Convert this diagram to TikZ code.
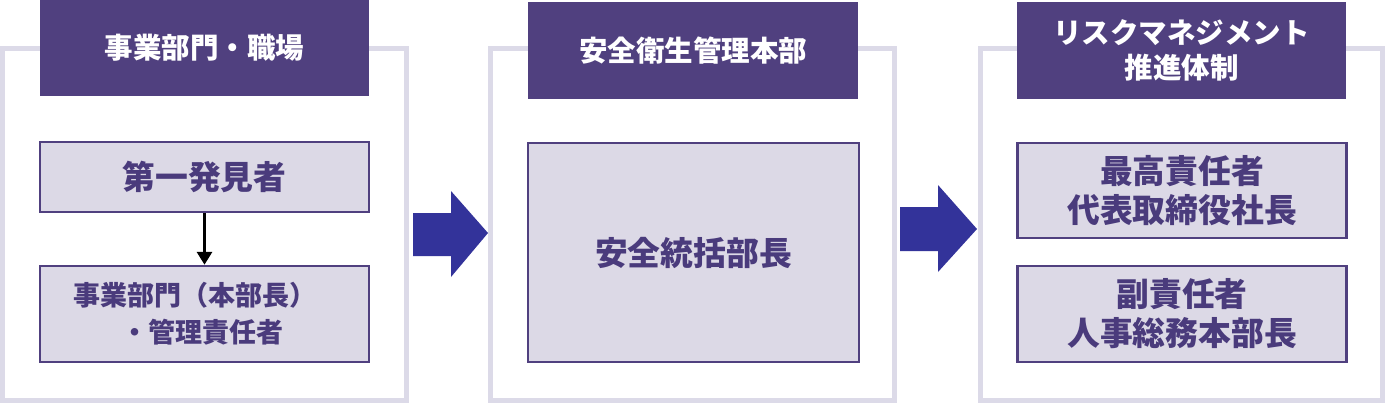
\documentclass[tikz,border=0pt]{standalone}
\usepackage{fontspec}
\setmainfont{Noto Sans CJK JP}
\usetikzlibrary{arrows.meta}
\definecolor{hdr}{HTML}{50407F}
\definecolor{frm}{HTML}{DCDAE8}
\definecolor{bxfill}{HTML}{DCD9E6}
\definecolor{bxtext}{HTML}{4A3B7C}
\definecolor{blk}{HTML}{33339A}
\tikzset{
  frame/.style={draw=frm,line width=5pt},
  header/.style={fill=hdr,text=white,inner sep=0pt,align=center,font=\fontsize{28.5}{35}\selectfont\bfseries},
  rolebox/.style={draw=hdr,fill=bxfill,line width=2.5pt,text=bxtext,inner sep=0pt,align=center,font=\fontsize{32.8}{39}\selectfont\bfseries},
  blockarrow/.style={fill=blk},
}
\begin{document}
\begin{tikzpicture}[x=1pt,y=-1pt]
\useasboundingbox (0,0) rectangle (1386,404);
% frames
\draw[frame] (2.5,48.5) rectangle (406.5,400.5);
\draw[frame] (490.5,49) rectangle (894.5,400.5);
\draw[frame] (980.5,49) rectangle (1382.5,400.5);
% headers
\node[header,minimum width=329pt,minimum height=96pt] (h1) at (204.5,48) {事業部門・職場};
\node[header,minimum width=330pt,minimum height=97pt] (h2) at (693,50.5) {安全衛生管理本部};
\node[header,minimum width=329pt,minimum height=97pt] (h3) at (1181.5,50.5) {リスクマネジメント\\推進体制};
% boxes
\node[rolebox,minimum width=329pt,minimum height=70pt] (b1) at (204.5,177) {第一発見者};
\node[rolebox,minimum width=329pt,minimum height=96pt,text width=329pt,align=left,font=\fontsize{27}{37}\selectfont\bfseries] (b2) at (204.5,314) {\hspace*{33pt}事業部門（本部長）\\\hspace*{81pt}・管理責任者};
\node[rolebox,minimum width=331pt,minimum height=219pt] (b3) at (693.5,252.5) {安全統括部長};
\node[rolebox,minimum width=329pt,minimum height=95pt] (b4) at (1182,190.5) {最高責任者\\代表取締役社長};
\node[rolebox,minimum width=329pt,minimum height=96pt] (b5) at (1182,314) {副責任者\\人事総務本部長};
% small arrow
\draw[line width=3.5pt,-{Triangle[width=15pt,length=13pt]}] (b1.south) -- (b2.north);
% block arrows
\fill[blockarrow] (413,213) -- (451,213) -- (451,191) -- (488,233) -- (451,277) -- (451,256) -- (413,256) -- cycle;
\fill[blockarrow] (900,207) -- (938,207) -- (938,185) -- (977,229) -- (938,272) -- (938,251) -- (900,251) -- cycle;
\end{tikzpicture}
\end{document}
